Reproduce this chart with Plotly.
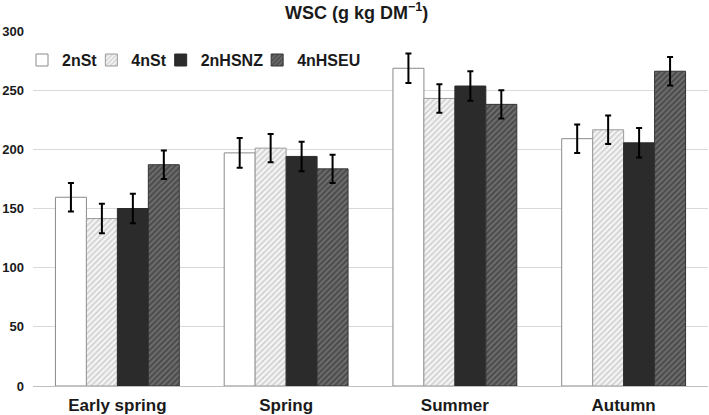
import plotly.graph_objects as go

categories = ["Early spring", "Spring", "Summer", "Autumn"]
series_names = ["2nSt", "4nSt", "2nHSNZ", "4nHSEU"]
v_2nSt = [159.5, 197, 268.5, 209]
v_4nSt = [141.5, 201, 243, 216.5]
v_2nHSNZ = [150, 194, 253.5, 205.5]
v_4nHSEU = [187, 183.5, 238, 266]
err_2nSt = [12, 12.5, 12.5, 12]
err_4nSt = [12.5, 12, 12, 12]
err_2nHSNZ = [12.5, 12.5, 12.5, 12.5]
err_4nHSEU = [12, 12, 12, 12]
y_ticks = [0, 50, 100, 150, 200, 250, 300]

FONT = "Liberation Sans, Arial"
TXT = "#1a1a1a"

styles = [
    dict(color="white", line=dict(color="#8a8a8a", width=1)),
    dict(color="white", line=dict(color="#9a9a9a", width=1),
         pattern=dict(shape="/", fgcolor="#a0a0a0", bgcolor="#f4f4f4", size=4, solidity=0.35)),
    dict(color="#2b2b2b", line=dict(color="#2b2b2b", width=1)),
    dict(color="#4a4a4a", line=dict(color="#333333", width=1),
         pattern=dict(shape="/", fgcolor="#262626", bgcolor="#6e6e6e", size=4, solidity=0.5)),
]
values = [v_2nSt, v_4nSt, v_2nHSNZ, v_4nHSEU]
errs = [err_2nSt, err_4nSt, err_2nHSNZ, err_4nHSEU]

fig = go.Figure()
for name, vals, err, st in zip(series_names, values, errs, styles):
    fig.add_trace(go.Bar(
        x=categories, y=vals, name=name, marker=st,
        error_y=dict(type="data", array=err, color="black", thickness=2, width=3),
    ))

fig.update_layout(
    width=709, height=415,
    barmode="group", bargap=0.266, bargroupgap=0,
    plot_bgcolor="white", paper_bgcolor="white",
    margin=dict(l=33, r=1, t=31, b=29),
    font=dict(family=FONT, color=TXT),
    title=dict(text="WSC (g kg DM<sup>−1</sup>)", x=0.503, xanchor="center",
               yref="container", y=0.970, yanchor="middle",
               font=dict(size=18, color=TXT, family=FONT, weight="bold")),
    legend=dict(orientation="h", x=0.0, y=0.918, indentation=-11,
                xanchor="left", yanchor="middle",
                font=dict(size=16, color=TXT, family=FONT, weight="bold"),
                bgcolor="rgba(255,255,255,0)", traceorder="normal"),
    showlegend=True,
)
fig.update_yaxes(range=[0, 300], tickvals=y_ticks, showgrid=True, gridcolor="#d9d9d9",
                 gridwidth=1, zeroline=False, showline=False,
                 tickfont=dict(size=13, color=TXT, family=FONT, weight="bold"),
                 ticks="", ticklabelstandoff=8)
fig.update_xaxes(showline=True, linecolor="#bfbfbf", linewidth=1, ticks="",
                 tickfont=dict(size=17, color=TXT, family=FONT, weight="bold"),
                 ticklabelstandoff=4)

fig.write_html("out.html", config={"displayModeBar": False},
               post_script="document.body.style.margin='0';")
